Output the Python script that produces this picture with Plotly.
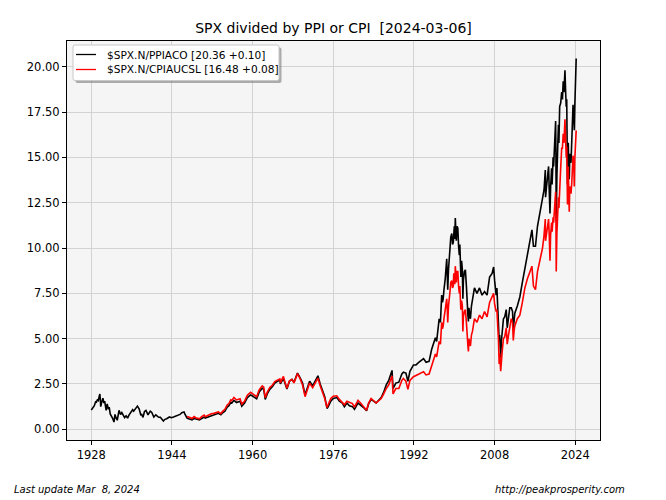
import plotly.graph_objects as go

# ---------------- data ----------------
ppi_years = [1928.00, 1928.25, 1928.45, 1928.60, 1928.85, 1929.00, 1929.20, 1929.40, 1929.55, 1929.70,
             1929.80, 1929.87, 1930.00, 1930.30, 1930.50, 1930.65, 1930.95, 1931.15, 1931.40, 1931.55,
             1931.75, 1932.00, 1932.20, 1932.50, 1932.70, 1932.90, 1933.15, 1933.50, 1933.80, 1934.05,
             1934.30, 1934.60, 1934.90, 1935.20, 1935.50, 1935.90, 1936.20, 1936.40, 1936.80, 1937.15,
             1937.50, 1937.80, 1938.00, 1938.25, 1938.55, 1938.85, 1939.25, 1939.70, 1940.00, 1940.40,
             1940.80, 1941.30, 1941.70, 1942.00, 1942.30, 1942.60, 1942.95, 1943.50, 1943.90, 1944.30,
             1944.80, 1945.20, 1945.60, 1945.95, 1946.40, 1946.60, 1946.80, 1947.00, 1947.30, 1947.70,
             1948.00, 1948.40, 1948.70, 1949.00, 1949.45, 1949.90, 1950.40, 1950.60, 1950.95, 1951.30,
             1951.80, 1952.30, 1952.90, 1953.20, 1953.70, 1954.00, 1954.50, 1954.95, 1955.30, 1955.70,
             1955.80, 1956.30, 1956.80, 1957.50, 1957.85, 1958.40, 1958.95, 1959.60, 1959.90, 1960.40,
             1960.80, 1961.30, 1961.90, 1962.20, 1962.50, 1962.90, 1963.40, 1963.90, 1964.40, 1964.90,
             1965.40, 1965.50, 1966.10, 1966.40, 1966.80, 1967.30, 1967.80, 1968.20, 1968.90, 1969.40,
             1969.90, 1970.40, 1970.90, 1971.30, 1971.90, 1972.40, 1972.95, 1973.40, 1973.80, 1974.30,
             1974.75, 1975.00, 1975.50, 1976.00, 1976.70, 1977.20, 1977.80, 1978.20, 1978.70, 1979.20,
             1979.80, 1980.20, 1980.90, 1981.40, 1982.00, 1982.60, 1983.00, 1983.50, 1984.50, 1985.00,
             1985.50, 1986.00, 1986.50, 1987.00, 1987.65, 1987.85, 1988.40, 1989.00, 1989.60, 1989.90,
             1990.40, 1990.80, 1991.20, 1991.90, 1992.40, 1993.00, 1993.90, 1994.40, 1995.00, 1995.50,
             1996.00, 1996.25, 1996.50, 1996.75, 1997.00, 1997.25, 1997.50, 1997.65, 1997.80, 1997.95,
             1998.20, 1998.50, 1998.62, 1998.70, 1998.85, 1999.00, 1999.15, 1999.30, 1999.50, 1999.65,
             1999.80, 1999.90, 2000.00, 2000.10, 2000.20, 2000.30, 2000.40, 2000.55, 2000.70, 2000.85,
             2001.00, 2001.10, 2001.25, 2001.30, 2001.45, 2001.60, 2001.70, 2001.80, 2002.00, 2002.20,
             2002.40, 2002.50, 2002.60, 2002.70, 2002.80, 2002.90, 2003.10, 2003.20, 2003.40, 2003.60,
             2004.00, 2004.50, 2005.00, 2005.50, 2006.00, 2006.50, 2007.00, 2007.50, 2007.80, 2008.00,
             2008.30, 2008.45, 2008.60, 2008.75, 2008.90, 2009.00, 2009.20, 2009.35, 2009.50, 2009.75,
             2010.00, 2010.30, 2010.50, 2010.75, 2011.00, 2011.30, 2011.55, 2011.70, 2011.85, 2012.00,
             2012.50, 2013.00, 2013.50, 2014.00, 2014.50, 2015.00, 2015.40, 2015.70, 2016.10, 2016.50,
             2017.00, 2017.50, 2017.80, 2018.05, 2018.10, 2018.30, 2018.50, 2018.70, 2018.85, 2018.98,
             2019.10, 2019.30, 2019.40, 2019.60, 2019.70, 2019.90, 2020.10, 2020.15, 2020.22, 2020.35,
             2020.50, 2020.65, 2020.75, 2020.90, 2021.10, 2021.30, 2021.45, 2021.60, 2021.75, 2021.95,
             2022.10, 2022.20, 2022.30, 2022.45, 2022.60, 2022.70, 2022.80, 2022.90, 2023.00, 2023.15,
             2023.30, 2023.55, 2023.70, 2023.80, 2023.90, 2024.00, 2024.10, 2024.18]
ppi_values = [1.07, 1.15, 1.22, 1.30, 1.52, 1.50, 1.62, 1.58, 1.80, 1.95,
              1.60, 1.25, 1.42, 1.72, 1.45, 1.55, 1.05, 1.40, 1.10, 1.22,
              0.85, 0.75, 0.62, 0.40, 0.82, 0.64, 0.50, 1.05, 0.82, 0.92,
              0.78, 0.64, 0.74, 0.62, 0.80, 0.96, 1.08, 1.00, 1.15, 1.28,
              1.12, 0.80, 0.82, 0.66, 0.98, 1.04, 0.80, 1.00, 0.93, 0.68,
              0.80, 0.68, 0.66, 0.55, 0.46, 0.55, 0.58, 0.68, 0.64, 0.68,
              0.72, 0.76, 0.82, 0.92, 0.96, 0.82, 0.68, 0.62, 0.58, 0.55,
              0.52, 0.60, 0.56, 0.56, 0.52, 0.62, 0.68, 0.62, 0.66, 0.70,
              0.74, 0.78, 0.88, 0.88, 0.80, 0.90, 1.00, 1.22, 1.30, 1.50,
              1.42, 1.60, 1.48, 1.55, 1.28, 1.45, 1.75, 1.90, 1.85, 1.75,
              1.68, 2.05, 2.27, 2.20, 1.65, 1.95, 2.20, 2.35, 2.55, 2.65,
              2.70, 2.50, 2.80, 2.55, 2.22, 2.65, 2.75, 2.60, 3.10, 2.85,
              2.55, 1.90, 2.30, 2.65, 2.40, 2.70, 2.95, 2.50, 2.20, 1.80,
              1.15, 1.25, 1.55, 1.70, 1.75, 1.55, 1.45, 1.25, 1.45, 1.30,
              1.25, 1.10, 1.45, 1.35, 1.20, 1.02, 1.40, 1.65, 1.45, 1.60,
              1.75, 2.05, 2.45, 2.70, 3.25, 2.25, 2.55, 2.60, 3.05, 3.15,
              3.10, 2.65, 3.20, 3.55, 3.55, 3.70, 3.90, 3.70, 3.75, 4.40,
              4.80, 5.05, 4.85, 5.35, 6.10, 5.90, 7.40, 7.00, 7.20, 7.70,
              8.30, 9.40, 8.40, 7.70, 8.80, 9.60, 9.90, 10.60, 10.80, 10.20,
              10.30, 11.00, 11.20, 10.50, 11.65, 11.00, 10.40, 11.20, 11.10, 10.10,
              9.60, 10.20, 8.70, 8.40, 9.30, 8.80, 7.20, 8.20, 8.70, 8.80,
              7.90, 6.90, 7.30, 6.30, 5.95, 6.70, 6.20, 6.10, 6.80, 7.10,
              7.80, 7.50, 7.80, 7.40, 7.60, 7.40, 8.40, 8.60, 8.95, 8.20,
              7.40, 7.80, 6.40, 6.00, 4.90, 5.20, 3.95, 4.90, 5.40, 6.10,
              6.20, 6.60, 5.60, 6.20, 6.70, 6.70, 6.50, 5.50, 6.10, 6.40,
              6.80, 7.30, 8.10, 8.90, 9.50, 10.50, 11.00, 10.10, 10.10, 11.20,
              11.90, 12.60, 13.20, 14.30, 12.80, 13.40, 13.90, 14.50, 13.00, 11.90,
              13.30, 14.40, 13.50, 15.00, 14.50, 16.20, 17.00, 15.50, 11.50, 14.00,
              16.00, 16.80, 15.80, 17.80, 18.00, 18.60, 18.20, 19.20, 18.60, 19.80,
              18.50, 17.80, 18.20, 13.50, 15.80, 14.30, 13.80, 15.00, 15.20, 14.70,
              16.00, 17.90, 17.20, 16.50, 17.80, 19.00, 19.80, 20.45]

cpi_years = [1947.00, 1947.30, 1947.70, 1948.00, 1948.40, 1948.70, 1949.00, 1949.45, 1949.90, 1950.40,
             1950.60, 1950.95, 1951.30, 1951.80, 1952.30, 1952.90, 1953.20, 1953.70, 1954.00, 1954.50,
             1954.95, 1955.30, 1955.70, 1955.80, 1956.30, 1956.80, 1957.50, 1957.85, 1958.40, 1958.95,
             1959.60, 1959.90, 1960.40, 1960.80, 1961.30, 1961.90, 1962.20, 1962.50, 1962.90, 1963.40,
             1963.90, 1964.40, 1964.90, 1965.40, 1965.50, 1966.10, 1966.40, 1966.80, 1967.30, 1967.80,
             1968.20, 1968.90, 1969.40, 1969.90, 1970.40, 1970.90, 1971.30, 1971.90, 1972.40, 1972.95,
             1973.40, 1973.80, 1974.30, 1974.75, 1975.00, 1975.50, 1976.00, 1976.70, 1977.20, 1977.80,
             1978.20, 1978.70, 1979.20, 1979.80, 1980.20, 1980.90, 1981.40, 1982.00, 1982.60, 1983.00,
             1983.50, 1984.50, 1985.00, 1985.50, 1986.00, 1986.50, 1987.00, 1987.65, 1987.85, 1988.40,
             1989.00, 1989.60, 1989.90, 1990.40, 1990.80, 1991.20, 1991.90, 1992.40, 1993.00, 1993.90,
             1994.40, 1995.00, 1995.50, 1996.00, 1996.25, 1996.50, 1996.75, 1997.00, 1997.25, 1997.50,
             1997.65, 1997.80, 1997.95, 1998.20, 1998.50, 1998.62, 1998.70, 1998.85, 1999.00, 1999.15,
             1999.30, 1999.50, 1999.65, 1999.80, 1999.90, 2000.00, 2000.10, 2000.20, 2000.30, 2000.40,
             2000.55, 2000.70, 2000.85, 2001.00, 2001.10, 2001.25, 2001.30, 2001.45, 2001.60, 2001.70,
             2001.80, 2002.00, 2002.20, 2002.40, 2002.50, 2002.60, 2002.70, 2002.80, 2002.90, 2003.10,
             2003.20, 2003.40, 2003.60, 2004.00, 2004.50, 2005.00, 2005.50, 2006.00, 2006.50, 2007.00,
             2007.50, 2007.80, 2008.00, 2008.30, 2008.45, 2008.60, 2008.75, 2008.90, 2009.00, 2009.20,
             2009.35, 2009.50, 2009.75, 2010.00, 2010.30, 2010.50, 2010.75, 2011.00, 2011.30, 2011.55,
             2011.70, 2011.85, 2012.00, 2012.50, 2013.00, 2013.50, 2014.00, 2014.50, 2015.00, 2015.40,
             2015.70, 2016.10, 2016.50, 2017.00, 2017.50, 2017.80, 2018.05, 2018.10, 2018.30, 2018.50,
             2018.70, 2018.85, 2018.98, 2019.10, 2019.30, 2019.40, 2019.60, 2019.70, 2019.90, 2020.10,
             2020.15, 2020.22, 2020.35, 2020.50, 2020.65, 2020.75, 2020.90, 2021.10, 2021.30, 2021.45,
             2021.60, 2021.75, 2021.95, 2022.10, 2022.20, 2022.30, 2022.45, 2022.60, 2022.70, 2022.80,
             2022.90, 2023.00, 2023.15, 2023.30, 2023.55, 2023.70, 2023.80, 2023.90, 2024.00, 2024.10,
             2024.18]
cpi_values = [0.71, 0.66, 0.64, 0.60, 0.70, 0.64, 0.62, 0.58, 0.70, 0.78,
              0.70, 0.76, 0.82, 0.86, 0.88, 0.96, 0.96, 0.86, 0.98, 1.10,
              1.34, 1.42, 1.65, 1.56, 1.76, 1.62, 1.68, 1.40, 1.55, 1.88,
              2.04, 1.98, 1.88, 1.80, 2.18, 2.40, 2.33, 1.74, 2.05, 2.30,
              2.43, 2.63, 2.71, 2.78, 2.56, 2.92, 2.62, 2.26, 2.68, 2.75,
              2.56, 3.07, 2.80, 2.45, 1.80, 2.20, 2.55, 2.30, 2.58, 2.82,
              2.40, 2.10, 1.70, 1.20, 1.34, 1.70, 1.82, 1.85, 1.65, 1.50,
              1.36, 1.55, 1.47, 1.42, 1.22, 1.60, 1.45, 1.25, 1.05, 1.45,
              1.70, 1.45, 1.58, 1.70, 1.95, 2.25, 2.45, 2.95, 1.95, 2.25,
              2.25, 2.70, 2.80, 2.65, 2.20, 2.70, 2.90, 2.95, 3.05, 3.18,
              3.00, 3.05, 3.55, 3.95, 4.15, 4.00, 4.40, 4.85, 4.70, 5.90,
              5.55, 5.70, 6.10, 6.60, 7.20, 6.50, 5.90, 6.80, 7.50, 7.60,
              8.10, 8.20, 7.80, 7.90, 8.60, 8.40, 8.00, 9.00, 8.50, 8.10,
              8.70, 8.70, 7.90, 7.50, 7.90, 6.80, 6.60, 7.10, 6.80, 5.40,
              6.20, 6.50, 6.60, 5.90, 5.10, 5.40, 4.60, 4.30, 5.00, 4.70,
              4.60, 5.20, 5.40, 6.10, 5.90, 6.30, 6.10, 6.50, 6.20, 7.00,
              7.30, 7.50, 6.90, 6.50, 6.60, 6.00, 5.00, 3.60, 4.20, 3.20,
              4.20, 4.30, 5.00, 5.10, 5.60, 4.70, 5.20, 5.70, 6.10, 5.90,
              4.90, 5.40, 5.70, 6.10, 6.30, 7.00, 7.80, 8.30, 8.70, 9.00,
              7.90, 7.70, 8.70, 9.30, 10.00, 10.70, 11.60, 10.40, 10.80, 11.10,
              11.60, 10.60, 9.30, 10.70, 11.40, 10.90, 11.70, 11.40, 12.40, 13.10,
              12.00, 8.70, 10.80, 12.00, 12.80, 12.20, 13.80, 14.40, 15.50, 15.50,
              16.30, 15.80, 17.10, 15.80, 15.00, 15.60, 12.40, 14.50, 13.00, 12.00,
              13.40, 13.20, 13.00, 13.60, 15.10, 14.60, 13.40, 14.90, 15.50, 16.10,
              16.48]

assert len(ppi_years) == len(ppi_values)
assert len(cpi_years) == len(cpi_values)

series_names = ["$SPX.N/PPIACO [20.36 +0.10]", "$SPX.N/CPIAUCSL [16.48 +0.08]"]
series_colors = ["black", "red"]
x_tick_years = [1928, 1944, 1960, 1976, 1992, 2008, 2024]
y_tick_values = [0.0, 2.5, 5.0, 7.5, 10.0, 12.5, 15.0, 17.5, 20.0]
title_text = "SPX divided by PPI or CPI  [2024-03-06]"
footer_left = "Last update Mar  8, 2024"
footer_right = "http://peakprosperity.com"

# ---------------- layout geometry (pixels) ----------------
W, H = 666, 500
L, R, T, B = 67, 600, 41, 440
FONT = "DejaVu Sans, Liberation Sans, sans-serif"
LW = 1.6


def px_x(px):
    return (px - L) / (R - L)


def px_y(py):
    return (B - py) / (B - T)


fig = go.Figure()
fig.add_trace(go.Scatter(x=ppi_years, y=ppi_values, mode="lines", name=series_names[0],
                         line=dict(color=series_colors[0], width=LW), showlegend=False))
fig.add_trace(go.Scatter(x=cpi_years, y=cpi_values, mode="lines", name=series_names[1],
                         line=dict(color=series_colors[1], width=LW), showlegend=False))


def rounded_rect(x0, y0, x1, y1, r):
    def P(x, y):
        return f"{px_x(x):.5f},{px_y(y):.5f}"
    return (f"M {P(x0 + r, y0)} L {P(x1 - r, y0)} Q {P(x1, y0)} {P(x1, y0 + r)} "
            f"L {P(x1, y1 - r)} Q {P(x1, y1)} {P(x1 - r, y1)} L {P(x0 + r, y1)} "
            f"Q {P(x0, y1)} {P(x0, y1 - r)} L {P(x0, y0 + r)} Q {P(x0, y0)} {P(x0 + r, y0)} Z")


shapes = []
shapes.append(dict(type="path", xref="paper", yref="paper", layer="above",
                   path=rounded_rect(75.5, 47.5, 281.5, 83, 2),
                   fillcolor="rgba(110,110,110,0.55)", line=dict(width=0)))
shapes.append(dict(type="path", xref="paper", yref="paper", layer="above",
                   path=rounded_rect(73, 45, 279, 80.5, 2),
                   fillcolor="white", line=dict(color="#c8c8c8", width=1)))
annotations = []
row_y = [54.5, 69.5]
for i in range(2):
    shapes.append(dict(type="line", xref="paper", yref="paper", layer="above",
                       x0=px_x(76), x1=px_x(96), y0=px_y(row_y[i]), y1=px_y(row_y[i]),
                       line=dict(color=series_colors[i], width=1.3)))
    annotations.append(dict(text=series_names[i], xref="paper", yref="paper",
                            x=px_x(104.5), y=px_y(row_y[i]), xanchor="left", yanchor="middle",
                            showarrow=False, font=dict(family=FONT, size=10.6, color="black")))

annotations.append(dict(text=f"<i>{footer_left}</i>", xref="paper", yref="paper",
                        x=px_x(12), y=px_y(489), xanchor="left", yanchor="middle",
                        showarrow=False, font=dict(family=FONT, size=10, color="black")))
annotations.append(dict(text=f"<i>{footer_right}</i>", xref="paper", yref="paper",
                        x=px_x(627), y=px_y(489), xanchor="right", yanchor="middle",
                        showarrow=False, font=dict(family=FONT, size=10, color="black")))

fig.update_layout(
    width=W, height=H,
    margin=dict(l=L, r=W - R, t=T, b=H - B, pad=0),
    paper_bgcolor="white",
    plot_bgcolor="#f5f5f5",
    font=dict(family=FONT, size=11, color="black"),
    title=dict(text=title_text, x=0.5, xref="paper", xanchor="center",
               y=1 - 28 / H, yref="container", yanchor="middle",
               font=dict(family=FONT, size=14, color="black")),
    xaxis=dict(range=[1923.18, 2028.9], tickmode="array", tickvals=x_tick_years,
               ticktext=[str(v) for v in x_tick_years],
               showgrid=True, gridcolor="#d3d3d3", gridwidth=1, zeroline=False,
               showline=True, linecolor="black", linewidth=1, mirror=True,
               ticks="outside", ticklen=4, tickcolor="black", tickwidth=1,
               tickfont=dict(family=FONT, size=11.5, color="black")),
    yaxis=dict(range=[-0.59, 21.42], tickmode="array", tickvals=y_tick_values,
               ticktext=[f"{v:.2f}" for v in y_tick_values],
               showgrid=True, gridcolor="#d3d3d3", gridwidth=1, zeroline=False,
               showline=True, linecolor="black", linewidth=1, mirror=True,
               ticks="outside", ticklen=4, tickcolor="black", tickwidth=1,
               tickfont=dict(family=FONT, size=11.5, color="black")),
    shapes=shapes,
    annotations=annotations,
    showlegend=False,
)

fig.write_html("out.html")
